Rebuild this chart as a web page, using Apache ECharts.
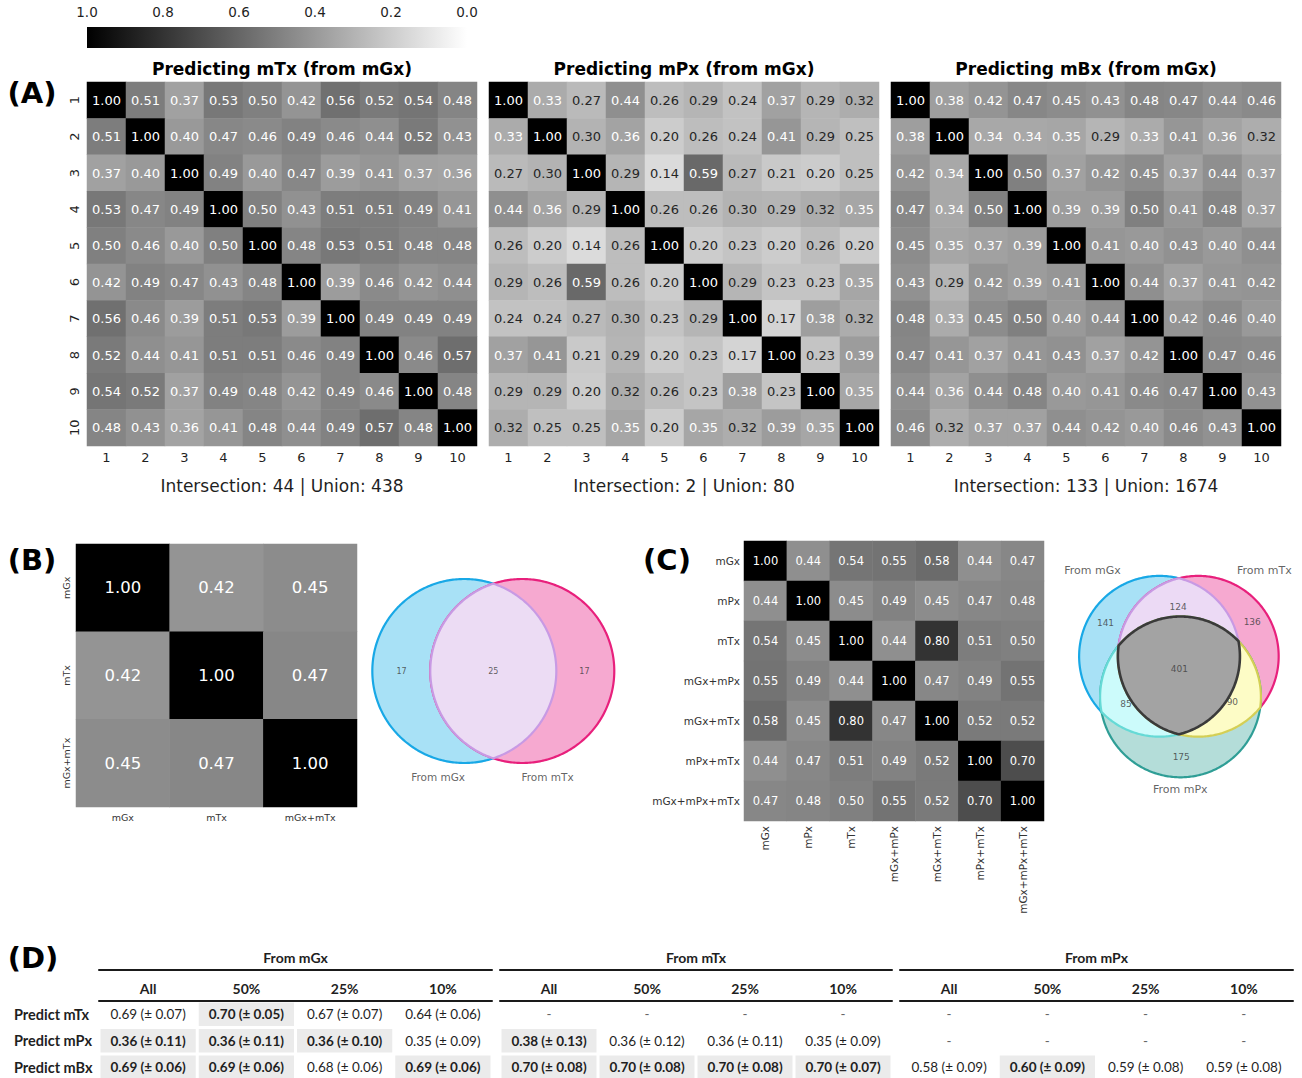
<!DOCTYPE html>
<html>
<head>
<meta charset="utf-8">
<script src="https://cdn.jsdelivr.net/npm/echarts@6/dist/echarts.min.js"></script>
<style>
  html, body { margin: 0; padding: 0; background: #ffffff; }
  #chart { width: 1302px; height: 1078px; }
</style>
</head>
<body>
<div id="chart"></div>
<script>
// ---------------- data ----------------
const cohortTicks = ['1', '2', '3', '4', '5', '6', '7', '8', '9', '10'];

const panelATitles = ['Predicting mTx (from mGx)', 'Predicting mPx (from mGx)', 'Predicting mBx (from mGx)'];

const mTxFromMGx = [
  [1.00, 0.51, 0.37, 0.53, 0.50, 0.42, 0.56, 0.52, 0.54, 0.48],
  [0.51, 1.00, 0.40, 0.47, 0.46, 0.49, 0.46, 0.44, 0.52, 0.43],
  [0.37, 0.40, 1.00, 0.49, 0.40, 0.47, 0.39, 0.41, 0.37, 0.36],
  [0.53, 0.47, 0.49, 1.00, 0.50, 0.43, 0.51, 0.51, 0.49, 0.41],
  [0.50, 0.46, 0.40, 0.50, 1.00, 0.48, 0.53, 0.51, 0.48, 0.48],
  [0.42, 0.49, 0.47, 0.43, 0.48, 1.00, 0.39, 0.46, 0.42, 0.44],
  [0.56, 0.46, 0.39, 0.51, 0.53, 0.39, 1.00, 0.49, 0.49, 0.49],
  [0.52, 0.44, 0.41, 0.51, 0.51, 0.46, 0.49, 1.00, 0.46, 0.57],
  [0.54, 0.52, 0.37, 0.49, 0.48, 0.42, 0.49, 0.46, 1.00, 0.48],
  [0.48, 0.43, 0.36, 0.41, 0.48, 0.44, 0.49, 0.57, 0.48, 1.00]
];

const mPxFromMGx = [
  [1.00, 0.33, 0.27, 0.44, 0.26, 0.29, 0.24, 0.37, 0.29, 0.32],
  [0.33, 1.00, 0.30, 0.36, 0.20, 0.26, 0.24, 0.41, 0.29, 0.25],
  [0.27, 0.30, 1.00, 0.29, 0.14, 0.59, 0.27, 0.21, 0.20, 0.25],
  [0.44, 0.36, 0.29, 1.00, 0.26, 0.26, 0.30, 0.29, 0.32, 0.35],
  [0.26, 0.20, 0.14, 0.26, 1.00, 0.20, 0.23, 0.20, 0.26, 0.20],
  [0.29, 0.26, 0.59, 0.26, 0.20, 1.00, 0.29, 0.23, 0.23, 0.35],
  [0.24, 0.24, 0.27, 0.30, 0.23, 0.29, 1.00, 0.17, 0.38, 0.32],
  [0.37, 0.41, 0.21, 0.29, 0.20, 0.23, 0.17, 1.00, 0.23, 0.39],
  [0.29, 0.29, 0.20, 0.32, 0.26, 0.23, 0.38, 0.23, 1.00, 0.35],
  [0.32, 0.25, 0.25, 0.35, 0.20, 0.35, 0.32, 0.39, 0.35, 1.00]
];

const mBxFromMGx = [
  [1.00, 0.38, 0.42, 0.47, 0.45, 0.43, 0.48, 0.47, 0.44, 0.46],
  [0.38, 1.00, 0.34, 0.34, 0.35, 0.29, 0.33, 0.41, 0.36, 0.32],
  [0.42, 0.34, 1.00, 0.50, 0.37, 0.42, 0.45, 0.37, 0.44, 0.37],
  [0.47, 0.34, 0.50, 1.00, 0.39, 0.39, 0.50, 0.41, 0.48, 0.37],
  [0.45, 0.35, 0.37, 0.39, 1.00, 0.41, 0.40, 0.43, 0.40, 0.44],
  [0.43, 0.29, 0.42, 0.39, 0.41, 1.00, 0.44, 0.37, 0.41, 0.42],
  [0.48, 0.33, 0.45, 0.50, 0.40, 0.44, 1.00, 0.42, 0.46, 0.40],
  [0.47, 0.41, 0.37, 0.41, 0.43, 0.37, 0.42, 1.00, 0.47, 0.46],
  [0.44, 0.36, 0.44, 0.48, 0.40, 0.41, 0.46, 0.47, 1.00, 0.43],
  [0.46, 0.32, 0.37, 0.37, 0.44, 0.42, 0.40, 0.46, 0.43, 1.00]
];

const intersectionCounts = [44, 2, 133];
const unionCounts = [438, 80, 1674];

const colorbarTicks = [1.0, 0.8, 0.6, 0.4, 0.2, 0.0];

const pairLabels = ['mGx', 'mTx', 'mGx+mTx'];
const pairMatrix = [
  [1.00, 0.42, 0.45],
  [0.42, 1.00, 0.47],
  [0.45, 0.47, 1.00]
];
const pairVennSets = ['From mGx', 'From mTx'];
const pairVennRegions = ['10', '11', '01'];
const pairVennCounts = [17, 25, 17];

const comboLabels = ['mGx', 'mPx', 'mTx', 'mGx+mPx', 'mGx+mTx', 'mPx+mTx', 'mGx+mPx+mTx'];
const comboMatrix = [
  [1.00, 0.44, 0.54, 0.55, 0.58, 0.44, 0.47],
  [0.44, 1.00, 0.45, 0.49, 0.45, 0.47, 0.48],
  [0.54, 0.45, 1.00, 0.44, 0.80, 0.51, 0.50],
  [0.55, 0.49, 0.44, 1.00, 0.47, 0.49, 0.55],
  [0.58, 0.45, 0.80, 0.47, 1.00, 0.52, 0.52],
  [0.44, 0.47, 0.51, 0.49, 0.52, 1.00, 0.70],
  [0.47, 0.48, 0.50, 0.55, 0.52, 0.70, 1.00]
];
// set order: mGx, mTx, mPx ; region keys are membership flags in that order
const tripleVennSets = ['From mGx', 'From mTx', 'From mPx'];
const tripleVennRegions = ['100', '010', '001', '110', '101', '011', '111'];
const tripleVennCounts = [141, 136, 175, 124, 85, 90, 401];

const tableGroups = ['From mGx', 'From mTx', 'From mPx'];
const tableCols = ['All', '50%', '25%', '10%'];
const tableRows = ['Predict mTx', 'Predict mPx', 'Predict mBx'];
const meanFromMGx = [[0.69, 0.70, 0.67, 0.64], [0.36, 0.36, 0.36, 0.35], [0.69, 0.69, 0.68, 0.69]];
const sdFromMGx   = [[0.07, 0.05, 0.07, 0.06], [0.11, 0.11, 0.10, 0.09], [0.06, 0.06, 0.06, 0.06]];
const bestFromMGx = [[0, 1, 0, 0], [1, 1, 1, 0], [1, 1, 0, 1]];
const meanFromMTx = [[null, null, null, null], [0.38, 0.36, 0.36, 0.35], [0.70, 0.70, 0.70, 0.70]];
const sdFromMTx   = [[null, null, null, null], [0.13, 0.12, 0.11, 0.09], [0.08, 0.08, 0.08, 0.07]];
const bestFromMTx = [[0, 0, 0, 0], [1, 0, 0, 0], [1, 1, 1, 1]];
const meanFromMPx = [[null, null, null, null], [null, null, null, null], [0.58, 0.60, 0.59, 0.59]];
const sdFromMPx   = [[null, null, null, null], [null, null, null, null], [0.09, 0.09, 0.08, 0.08]];
const bestFromMPx = [[0, 0, 0, 0], [0, 0, 0, 0], [0, 1, 0, 0]];

// ---------------- helpers ----------------
const FONT = 'DejaVu Sans';
const TABLE_FONT = 'Lato';
const INK = '#1f1f1f';

// annotation colour follows the luminance of the grey cell underneath
function annotColor(v) {
  const c = 1 - v;
  const lin = c <= 0.03928 ? c / 12.92 : Math.pow((c + 0.055) / 1.055, 2.4);
  return lin > 0.408 ? '#262626' : '#ffffff';
}

function heatData(matrix) {
  const out = [];
  matrix.forEach((row, r) => row.forEach((v, c) => {
    out.push({ value: [c, r, v], label: { color: annotColor(v) } });
  }));
  return out;
}

function circlePoly(cx, cy, r, n) {
  const pts = [];
  for (let i = 0; i < n; i++) {
    const a = (2 * Math.PI * i) / n;
    pts.push([cx + r * Math.cos(a), cy + r * Math.sin(a)]);
  }
  return pts;
}

function polyArea(p) {
  let s = 0;
  for (let i = 0; i < p.length; i++) {
    const a = p[i], b = p[(i + 1) % p.length];
    s += a[0] * b[1] - b[0] * a[1];
  }
  return s / 2;
}

// Sutherland-Hodgman clipping against a convex polygon
function clipConvex(subject, clip) {
  const sign = polyArea(clip) >= 0 ? 1 : -1;
  const side = (a, b, p) => sign * ((b[0] - a[0]) * (p[1] - a[1]) - (b[1] - a[1]) * (p[0] - a[0]));
  const cross = (p, q, a, b) => {
    const d1 = side(a, b, p), d2 = side(a, b, q);
    const t = d1 / (d1 - d2);
    return [p[0] + t * (q[0] - p[0]), p[1] + t * (q[1] - p[1])];
  };
  let out = subject;
  for (let i = 0; i < clip.length && out.length; i++) {
    const a = clip[i], b = clip[(i + 1) % clip.length];
    const inp = out;
    out = [];
    for (let k = 0; k < inp.length; k++) {
      const cur = inp[k], prev = inp[(k + inp.length - 1) % inp.length];
      const inCur = side(a, b, cur) >= 0, inPrev = side(a, b, prev) >= 0;
      if (inCur) {
        if (!inPrev) out.push(cross(prev, cur, a, b));
        out.push(cur);
      } else if (inPrev) {
        out.push(cross(prev, cur, a, b));
      }
    }
  }
  return out;
}

// ---------------- layout ----------------
const grids = [], xAxes = [], yAxes = [], series = [], graphics = [];
const heatSeries = [];

function addGrid(g) {
  grids.push(Object.assign({ outerBoundsMode: 'none', containLabel: false, show: false }, g));
  return grids.length - 1;
}

function addHeatmap(rect, xCats, yCats, matrix, opt) {
  const gi = addGrid(rect);
  const xi = xAxes.length, yi = yAxes.length;
  xAxes.push({
    type: 'category', gridIndex: gi, data: xCats, position: 'bottom',
    axisLine: { show: false }, axisTick: { show: false }, splitLine: { show: false }, splitArea: { show: false },
    axisLabel: Object.assign({ show: true, fontFamily: FONT, color: INK, interval: 0 }, opt.xLabel)
  });
  yAxes.push({
    type: 'category', gridIndex: gi, data: yCats, inverse: true,
    axisLine: { show: false }, axisTick: { show: false }, splitLine: { show: false }, splitArea: { show: false },
    axisLabel: Object.assign({ show: true, fontFamily: FONT, color: INK, interval: 0 }, opt.yLabel)
  });
  heatSeries.push(series.length);
  series.push({
    type: 'heatmap', xAxisIndex: xi, yAxisIndex: yi,
    data: heatData(matrix),
    label: { show: true, formatter: p => p.value[2].toFixed(2), fontFamily: FONT, fontSize: opt.cellFont },
    itemStyle: { borderWidth: 0 },
    emphasis: { disabled: true },
    silent: true
  });
}

// ---- panel A: three 10x10 heatmaps ----
const panelAMatrices = [mTxFromMGx, mPxFromMGx, mBxFromMGx];
const panelALeft = [87, 489, 891];
panelAMatrices.forEach((m, k) => {
  addHeatmap({ left: panelALeft[k], top: 82, width: 390, height: 364 }, cohortTicks, cohortTicks, m, {
    cellFont: 13,
    xLabel: { fontSize: 13, margin: 5 },
    yLabel: k === 0 ? { fontSize: 13, rotate: 90, margin: 6 } : { show: false }
  });
  const cx = panelALeft[k] + 195;
  graphics.push({
    type: 'text', x: cx, y: 69,
    style: { text: panelATitles[k], fontFamily: FONT, fontWeight: 'bold', fontSize: 17, fill: '#000', textAlign: 'center', textVerticalAlign: 'middle' }
  });
  graphics.push({
    type: 'text', x: cx, y: 486,
    style: { text: 'Intersection: ' + intersectionCounts[k] + ' | Union: ' + unionCounts[k], fontFamily: FONT, fontSize: 17, fill: INK, textAlign: 'center', textVerticalAlign: 'middle' }
  });
});

// ---- colour bar ----
{
  const gi = addGrid({ left: 87, top: 27, width: 380, height: 21 });
  const xi = xAxes.length, yi = yAxes.length;
  xAxes.push({
    type: 'value', gridIndex: gi, min: 0, max: 1, interval: 0.2, inverse: true, position: 'top',
    axisLine: { show: false }, axisTick: { show: false }, splitLine: { show: false },
    axisLabel: { fontFamily: FONT, fontSize: 13.5, color: INK, margin: 8, formatter: v => Number(v).toFixed(1) }
  });
  yAxes.push({ type: 'value', gridIndex: gi, min: 0, max: 1, show: false });
  series.push({
    type: 'custom', xAxisIndex: xi, yAxisIndex: yi, silent: true,
    data: [[colorbarTicks[0], 0]],
    renderItem: (params, api) => {
      const p0 = api.coord([colorbarTicks[0], 1]);
      const p1 = api.coord([colorbarTicks[colorbarTicks.length - 1], 0]);
      return {
        type: 'rect',
        shape: { x: p0[0], y: p0[1], width: p1[0] - p0[0], height: p1[1] - p0[1] },
        style: {
          fill: new echarts.graphic.LinearGradient(0, 0, 1, 0, [
            { offset: 0, color: '#000000' }, { offset: 1, color: '#ffffff' }
          ])
        }
      };
    }
  });
}

// ---- panel B: 3x3 heatmap ----
addHeatmap({ left: 76, top: 544, width: 281, height: 263 }, pairLabels, pairLabels, pairMatrix, {
  cellFont: 16.5,
  xLabel: { fontSize: 9.5, margin: 5, color: '#333' },
  yLabel: { fontSize: 9.5, rotate: 90, margin: 5, color: '#333' }
});

// ---- panel C: 7x7 heatmap ----
addHeatmap({ left: 744, top: 541, width: 300, height: 280 }, comboLabels, comboLabels, comboMatrix, {
  cellFont: 11.5,
  xLabel: { fontSize: 10.5, rotate: 90, margin: 5, color: '#333' },
  yLabel: { fontSize: 10.5, margin: 4, color: '#333' }
});

// ---- Venn diagrams (geometry in units of the circle radius) ----
const VENN2_LAYOUT = {
  centers: [[-0.315, 0], [0.315, 0]],
  regionAnchor: { '10': [-0.997, 0], '11': [0, 0], '01': [0.99, 0] },
  setAnchor: [[-0.6, 1.152], [0.59, 1.152]]
};
const VENN3_LAYOUT = {
  centers: [[-0.241, -0.168], [0.241, -0.168], [0.02, 0.337]],
  regionAnchor: {
    '100': [-0.913, -0.586], '010': [0.912, -0.598], '001': [0.029, 1.088],
    '110': [-0.009, -0.777], '101': [-0.657, 0.422], '011': [0.665, 0.404], '111': [0.007, -0.006]
  },
  setAnchor: [[-1.075, -1.23], [1.063, -1.23], [0.017, 1.483]]
};

const VENN_STYLE = {
  sets: [
    { fill: '#a8e1f6', stroke: '#18a8e6' },
    { fill: '#f6a9d0', stroke: '#e8207c' },
    { fill: '#b4ddd9', stroke: '#2f9e96' }
  ],
  pairs: {
    '110': { fill: '#ecdaf5', stroke: '#c89ae4' },
    '101': { fill: '#ccfbfb', stroke: '#66dad6' },
    '011': { fill: '#fdfcc6', stroke: '#d4cf55' }
  },
  all3: { fill: '#a3a3a3', stroke: '#3a3a3a' }
};

function addVenn(rect, extentX, extentY, layout, setNames, regionKeys, counts, fonts) {
  const gi = addGrid(rect);
  const xi = xAxes.length, yi = yAxes.length;
  xAxes.push({ type: 'value', gridIndex: gi, min: -extentX, max: extentX, show: false });
  yAxes.push({ type: 'value', gridIndex: gi, min: -extentY, max: extentY, inverse: true, show: false });

  const circles = layout.centers.map(c => circlePoly(c[0], c[1], 1, 360));
  const patches = circles.map((poly, i) => ({ poly, fill: VENN_STYLE.sets[i].fill, stroke: VENN_STYLE.sets[i].stroke, lw: 2.2 }));
  if (circles.length === 2) {
    patches.push({ poly: clipConvex(circles[0], circles[1]), fill: '#ecdcf4', stroke: '#c89ae4', lw: 2.2 });
  } else {
    [['110', 0, 1], ['101', 0, 2], ['011', 1, 2]].forEach(([key, a, b]) => {
      patches.push({ poly: clipConvex(circles[a], circles[b]), fill: VENN_STYLE.pairs[key].fill, stroke: VENN_STYLE.pairs[key].stroke, lw: 2.2 });
    });
    patches.push({ poly: clipConvex(clipConvex(circles[0], circles[1]), circles[2]), fill: VENN_STYLE.all3.fill, stroke: VENN_STYLE.all3.stroke, lw: 2.6 });
  }

  series.push({
    type: 'custom', xAxisIndex: xi, yAxisIndex: yi, silent: true, clip: false,
    data: patches.map(() => [0, 0]),
    renderItem: (params, api) => {
      const p = patches[params.dataIndex];
      return {
        type: 'polygon',
        shape: { points: p.poly.map(pt => api.coord(pt)) },
        style: { fill: p.fill, stroke: p.stroke, lineWidth: p.lw, lineJoin: 'round' }
      };
    }
  });

  const labelData = regionKeys.map((key, i) => ({
    value: layout.regionAnchor[key], name: String(counts[i]),
    label: { fontSize: fonts.count }
  })).concat(setNames.map((name, i) => ({
    value: layout.setAnchor[i], name,
    label: { fontSize: fonts.set }
  })));
  series.push({
    type: 'scatter', xAxisIndex: xi, yAxisIndex: yi, silent: true, clip: false,
    symbolSize: 1, itemStyle: { color: 'rgba(0,0,0,0)' },
    data: labelData,
    label: { show: true, position: 'inside', formatter: '{b}', color: '#3a3a3a', fontFamily: FONT }
  });
}

// two-set Venn, radius 92 px centred at (493.3, 671)
addVenn({ left: 493.3 - 1.5 * 92, top: 671 - 1.4 * 92, width: 3 * 92, height: 2.8 * 92 }, 1.5, 1.4,
  VENN2_LAYOUT, pairVennSets, pairVennRegions, pairVennCounts, { count: 8, set: 10.5 });
// three-set Venn, radius 80.4 px centred at (1178.9, 669.8)
addVenn({ left: 1178.9 - 1.6 * 80.4, top: 669.8 - 1.6 * 80.4, width: 3.2 * 80.4, height: 3.2 * 80.4 }, 1.6, 1.6,
  VENN3_LAYOUT, tripleVennSets, tripleVennRegions, tripleVennCounts, { count: 9, set: 11 });

// ---- panel D: results table ----
const tableMeans = [meanFromMGx, meanFromMTx, meanFromMPx];
const tableSds = [sdFromMGx, sdFromMTx, sdFromMPx];
const tableBest = [bestFromMGx, bestFromMTx, bestFromMPx];
const tableLeft = [99, 500, 900];
const tableWidth = [393, 392, 393];
const ruleStyle = { color: '#1a1a1a', width: 2 };

tableGroups.forEach((groupName, g) => {
  const gi = addGrid({ left: tableLeft[g], top: 1001, width: tableWidth[g], height: 79.5 });
  const xi = xAxes.length, yi = yAxes.length;
  xAxes.push({
    type: 'category', gridIndex: gi, data: tableCols, position: 'top',
    axisLine: { show: true, lineStyle: ruleStyle }, axisTick: { show: false }, splitLine: { show: false },
    axisLabel: { fontFamily: TABLE_FONT, fontWeight: 'bold', fontSize: 14, color: INK, margin: 6, interval: 0 }
  });
  xAxes.push({
    type: 'category', gridIndex: gi, data: tableCols, position: 'top', offset: 31,
    axisLine: { show: true, lineStyle: ruleStyle }, axisTick: { show: false }, splitLine: { show: false },
    axisLabel: { show: false },
    name: groupName, nameLocation: 'middle', nameGap: 6,
    nameTextStyle: { fontFamily: TABLE_FONT, fontWeight: 'bold', fontSize: 14, color: INK }
  });
  yAxes.push({
    type: 'category', gridIndex: gi, data: tableRows, inverse: true,
    axisLine: { show: false }, axisTick: { show: false }, splitLine: { show: false },
    axisLabel: g === 0
      ? { show: true, align: 'left', margin: 85, fontFamily: TABLE_FONT, fontWeight: 'bold', fontSize: 14.5, color: INK }
      : { show: false }
  });
  const cells = [];
  tableRows.forEach((_, r) => tableCols.forEach((__, c) => cells.push([c, r])));
  series.push({
    type: 'custom', xAxisIndex: xi, yAxisIndex: yi, silent: true, clip: false,
    data: cells,
    renderItem: (params, api) => {
      const c = api.value(0), r = api.value(1);
      const ctr = api.coord([c, r]);
      const sz = api.size([1, 1]);
      const mean = tableMeans[g][r][c], sd = tableSds[g][r][c], best = tableBest[g][r][c];
      const children = [];
      if (best) {
        children.push({
          type: 'rect',
          shape: { x: ctr[0] - sz[0] / 2 + 1.5, y: ctr[1] - sz[1] / 2 + 1.5, width: sz[0] - 3, height: sz[1] - 3 },
          style: { fill: '#ebebeb' }
        });
      }
      children.push({
        type: 'text',
        style: {
          text: mean == null ? '-' : mean.toFixed(2) + ' (\u00b1 ' + sd.toFixed(2) + ')',
          x: ctr[0], y: ctr[1], textAlign: 'center', textVerticalAlign: 'middle',
          fontFamily: TABLE_FONT, fontSize: 13.5, fontWeight: best ? 'bold' : 'normal',
          fill: mean == null ? '#666666' : INK
        }
      });
      return { type: 'group', children };
    }
  });
});

// ---- panel letters ----
[['(A)', 32, 93], ['(B)', 32, 560], ['(C)', 667, 560], ['(D)', 33, 958]].forEach(([t, x, y]) => {
  graphics.push({
    type: 'text', x, y,
    style: { text: t, fontFamily: FONT, fontWeight: 'bold', fontSize: 29, fill: '#000', textAlign: 'center', textVerticalAlign: 'middle' }
  });
});

const chart = echarts.init(document.getElementById('chart'), null, { renderer: 'svg', width: 1302, height: 1078 });
chart.setOption({
  backgroundColor: '#ffffff',
  animation: false,
  textStyle: { fontFamily: FONT },
  grid: grids,
  xAxis: xAxes,
  yAxis: yAxes,
  visualMap: {
    show: false, type: 'continuous', min: 0, max: 1, dimension: 2,
    seriesIndex: heatSeries,
    inRange: { color: ['#ffffff', '#000000'] }
  },
  graphic: graphics,
  series
});
</script>
</body>
</html>
